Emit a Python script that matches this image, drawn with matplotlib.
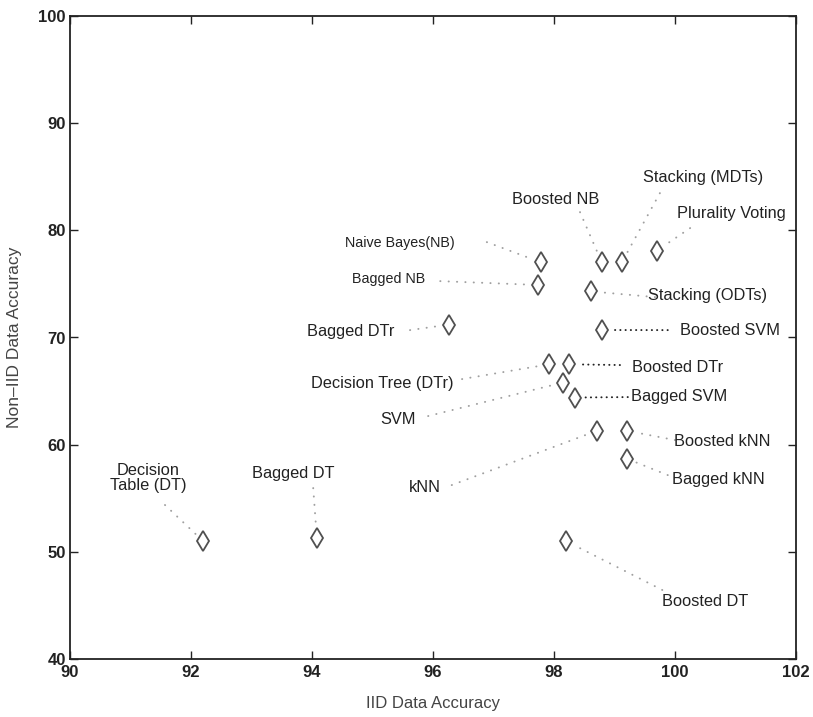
import matplotlib
matplotlib.use("Agg")
import matplotlib.pyplot as plt

plt.rcParams['font.family'] = ['Liberation Sans', 'DejaVu Sans']

# ---- data ----
names = ["Decision\nTable (DT)", "Bagged DT", "kNN", "Boosted DT", "Bagged kNN",
         "Boosted kNN", "SVM", "Bagged SVM", "Decision Tree (DTr)", "Boosted DTr",
         "Boosted SVM", "Bagged DTr", "Naive Bayes(NB)", "Bagged NB", "Boosted NB",
         "Stacking (MDTs)", "Plurality Voting", "Stacking (ODTs)"]
iid_acc = [92.2, 94.08, 98.71, 98.2, 99.2,
           99.2, 98.15, 98.35, 97.92, 98.25,
           98.79, 96.26, 97.79, 97.74, 98.79,
           99.12, 99.70, 98.61]
noniid_acc = [51.0, 51.3, 61.3, 51.0, 58.7,
              61.3, 65.8, 64.4, 67.5, 67.5,
              70.7, 71.2, 77.0, 74.9, 77.0,
              77.0, 78.1, 74.3]

# label text positions (data coords) and leader-line start points
text_x = [91.29, 93.69, 95.87, 100.50, 100.71,
          100.78, 95.42, 100.07, 95.16, 100.05,
          100.91, 94.64, 95.45, 95.27, 98.03,
          100.46, 100.93, 100.53]
text_y = [56.88, 57.35, 56.04, 45.41, 56.79,
          60.34, 62.39, 64.53, 65.75, 67.24,
          70.69, 70.60, 78.81, 75.45, 82.91,
          84.96, 81.60, 73.96]
line_x = [91.57, 94.02, 96.31, 99.79, 99.88,
          100.0, 95.92, 99.22, 96.48, 99.09,
          99.88, 95.62, 96.89, 96.12, 98.43,
          99.75, 100.25, 99.67]
line_y = [54.37, 55.95, 56.23, 46.44, 57.16,
          60.43, 62.67, 64.44, 66.12, 67.43,
          70.69, 70.69, 78.90, 75.26, 81.70,
          83.47, 80.21, 73.77]
dark_lines = {"Bagged SVM", "Boosted DTr", "Boosted SVM"}
small_labels = {"Naive Bayes(NB)", "Bagged NB"}

x_ticks = [90, 92, 94, 96, 98, 100, 102]
y_ticks = [40, 50, 60, 70, 80, 90, 100]

fig = plt.figure(figsize=(8.13, 7.17), dpi=100)
ax = fig.add_axes([70/813, 1-659/717, 726/813, 643/717])

for n, px, py, tx, ty, lx, ly in zip(names, iid_acc, noniid_acc, text_x, text_y, line_x, line_y):
    if n in dark_lines:
        lc, ls, lw = '#222222', (0, (0.1, 2.6)), 1.4
    else:
        lc, ls, lw = '#a0a0a0', (0, (0.1, 4.2)), 1.4
    ax.annotate('', xy=(px, py), xytext=(lx, ly),
                arrowprops=dict(arrowstyle='-', color=lc, linestyle=ls, lw=lw,
                                capstyle='round', shrinkA=0, shrinkB=7))
    fs = 10.3 if n in small_labels else 11.8
    ax.text(tx, ty, n, ha='center', va='center', fontsize=fs, color='#222222',
            linespacing=1.0)

ax.plot(iid_acc, noniid_acc, linestyle='none', marker='d', markersize=10.5,
        markerfacecolor='white', markeredgecolor='#505050', markeredgewidth=1.3)

ax.set_xlim(90, 102)
ax.set_ylim(40, 100)
ax.set_xticks(x_ticks)
ax.set_yticks(y_ticks)
ax.tick_params(direction='in', top=True, right=True, length=6, width=1,
               labelsize=12, colors='#222222')
ax.tick_params(axis='x', pad=4)
ax.tick_params(axis='y', pad=3)
for lab in ax.get_xticklabels() + ax.get_yticklabels():
    lab.set_fontweight('bold')
for s in ax.spines.values():
    s.set_linewidth(1.3)
    s.set_color('#222222')

ax.set_xlabel("IID Data Accuracy", fontsize=12, color='#444444')
ax.xaxis.set_label_coords(0.5, -37/643)
ax.set_ylabel("Non\u2013IID Data Accuracy", fontsize=12.5, color='#444444')
ax.yaxis.set_label_coords(-48/726, 0.5)

fig.savefig("out.png", dpi=100)
